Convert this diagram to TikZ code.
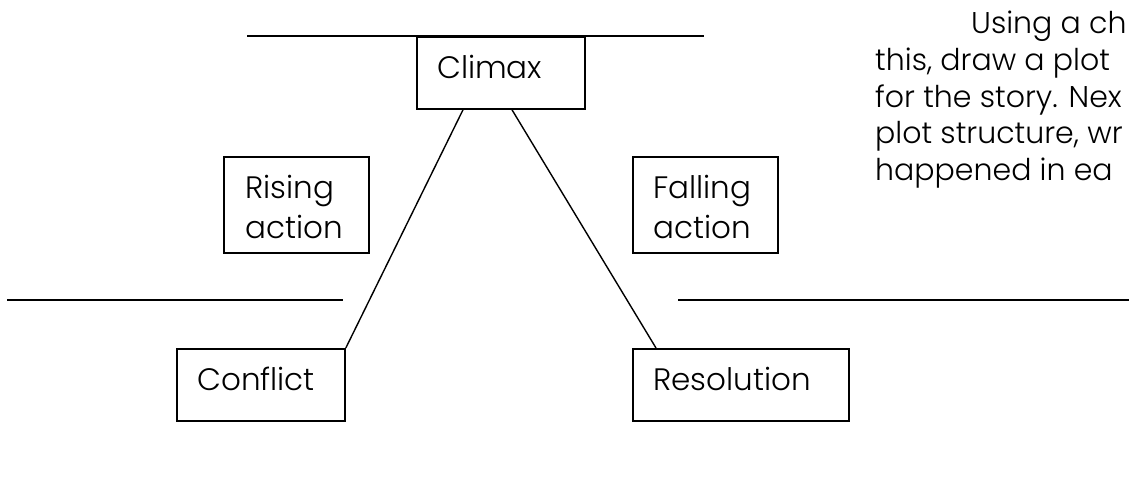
\documentclass[tikz,border=0pt]{standalone}
\usepackage{fontspec}
\setmainfont{Poppins}[UprightFont={* Light}]
\usetikzlibrary{calc}
\begin{document}
\begin{tikzpicture}[x=1pt,y=-1pt,
  box/.style={draw, line width=1.8pt, inner sep=0pt, anchor=north west},
  lbl/.style={font=\fontsize{31}{40}\selectfont, anchor=base west, inner sep=0pt},
  rule/.style={line width=1.6pt},
  slope/.style={line width=1.4pt},
  para/.style={font=\fontsize{30}{36}\selectfont, anchor=base west, inner sep=0pt}]
\useasboundingbox (0,0) rectangle (1129,481);

% horizontal writing rules
\coordinate (topL) at (247,36);
\coordinate (topR) at (704,36);
\coordinate (midLa) at (7,300);
\coordinate (midLb) at (343,300);
\coordinate (midRa) at (678,300);
\coordinate (midRb) at (1129,300);
\draw[rule] (topL) -- (topR);
\draw[rule] (midLa) -- (midLb);
\draw[rule] (midRa) -- (midRb);

% plot boxes
\node[box, fill=white, minimum width=168pt, minimum height=72pt] (climax) at (416,36) {};
\node[box, minimum width=145pt, minimum height=96pt] (rising) at (223,156) {};
\node[box, minimum width=145pt, minimum height=96pt] (falling) at (632,156) {};
\node[box, minimum width=168pt, minimum height=72pt] (conflict) at (176,348) {};
\node[box, minimum width=216pt, minimum height=72pt] (resolution) at (632,348) {};

% box labels
\node[lbl] (climaxT) at (437,79) {Climax};
\node[lbl] (risingT1) at (245,198) {Rising};
\node[lbl] (risingT2) at (245,238) {action};
\node[lbl] (fallingT1) at (653,198) {Falling};
\node[lbl] (fallingT2) at (653,238) {action};
\node[lbl] (conflictT) at (197,390) {Conflict};
\node[lbl] (resolutionT) at (653,390) {Resolution};

% the two slopes of the plot line
\draw[slope] ($(climax.south west)+(47,0)$) -- (conflict.north east);
\draw[slope] ($(climax.south west)+(96,0)$) -- ($(resolution.north west)+(24,0)$);

% instructions, running off the right edge
\begin{scope}
\clip (0,0) rectangle (1129,481);
\node[para] (inst1) at (971,34) {Using a ch};
\node[para] (inst2) at (875,71) {this, draw a plot};
\node[para] (inst3) at (875,107.5) {for the story. Nex};
\node[para] (inst4) at (875,144) {plot structure, wr};
\node[para] (inst5) at (875,180.5) {happened in ea};
\end{scope}
\end{tikzpicture}
\end{document}
